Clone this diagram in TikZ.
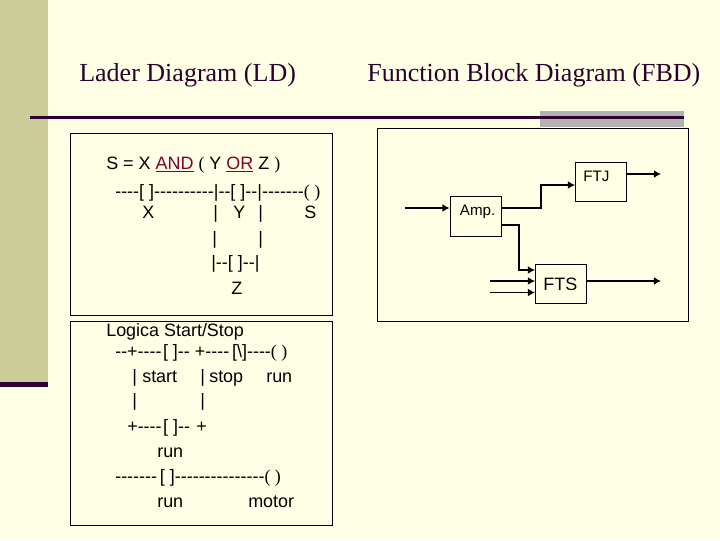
\documentclass[tikz,border=0pt]{standalone}
\usepackage{fontspec}
\setmainfont{Liberation Serif}
\newfontfamily\ldfont{Liberation Sans}
\usetikzlibrary{arrows.meta, positioning, calc}
\definecolor{paper}{HTML}{FFFFE5}
\definecolor{band}{HTML}{CCCC99}
\definecolor{rule}{HTML}{330033}
\definecolor{keyw}{HTML}{800030}

\begin{document}
\begin{tikzpicture}[
    x=0.025cm, y=-0.025cm,
    title/.style={anchor=base west, inner sep=0pt, text=rule!85!black, font=\rmfamily\fontsize{18.5}{22}\selectfont},
    ln/.style={anchor=base west, inner sep=0pt, text=black, font=\ldfont\fontsize{12.76}{15}\selectfont},
    block/.style={draw=black, line width=0.7pt, fill=paper, minimum width=1.275cm, minimum height=0.98cm, inner sep=0pt, font=\ldfont\fontsize{10.8}{12}\selectfont},
    flow/.style={line width=1.3pt, -{Latex[length=5pt, width=5.5pt]}},
]
    % Slide background
    \fill[paper] (0,0) rectangle (720,540);
    \useasboundingbox (0,0) rectangle (720,540);
    \fill[band] (0,0) rectangle (48,384);
    \fill[rule] (0,382) rectangle (48,387);
    \fill[black!30] (540,111) rectangle (684,127);
    \fill[rule] (30,115.5) rectangle (684,118.5);

    % Headings
    \node[title] (LD) at (79,81) {Lader Diagram (LD)};
    \node[title] (FBD) at (367,81) {Function Block Diagram (FBD)};

    % Frames
    \draw[line width=0.7pt] (70,133) rectangle (332,315);
    \draw[line width=0.7pt] (70,321) rectangle (332,525);
    \draw[line width=0.7pt] (377,128) rectangle (688,321);

    % Ladder, first frame
    \node[ln] (eq) at (106,169) {S = X {\color{keyw}\underline{AND}} {\rmfamily (} Y {\color{keyw}\underline{OR}} Z {\rmfamily )}};
    \node[ln] (rungA) at (115,197) {----[ ]----------|--[ ]--|-------{\rmfamily( )}};
    \node[ln] (X) at (142,218) {X};
    \node[ln] (barAa) at (213,218) {|};
    \node[ln] (Y) at (233,218) {Y};
    \node[ln] (barAb) at (258,218) {|};
    \node[ln] (S) at (304,218) {S};
    \node[ln] (barBa) at (212,244) {|};
    \node[ln] (barBb) at (258,244) {|};
    \node[ln] (rungB) at (211,268.5) {|--[ ]--|};
    \node[ln] (Z) at (231,294) {Z};

    % Ladder, second frame
    \node[ln] (logic) at (106,336) {Logica Start/Stop};
    \node[ln] (rungC) at (115,357) {--+----\kern1pt[ ]-- +----\kern2pt[\textbackslash]----{\rmfamily( )}};
    \node[ln] (barCa) at (132,382) {|};
    \node[ln] (start) at (142,382) {start};
    \node[ln] (barCb) at (200,382) {|};
    \node[ln] (stop) at (209,382) {stop};
    \node[ln] (runA) at (266,382) {run};
    \node[ln] (barDa) at (132,406) {|};
    \node[ln] (barDb) at (200,406) {|};
    \node[ln] (rungD) at (127,432) {+----\kern1pt[ ]-- \kern1pt+};
    \node[ln] (runB) at (157,457) {run};
    \node[ln] (rungE) at (115,482) {-------\kern2pt[ ]---------------{\rmfamily( )}};
    \node[ln] (runC) at (157,507) {run};
    \node[ln] (motor) at (248,507) {motor};

    % Function blocks
    \node[block, text height=10pt, text depth=12pt] (Amp) at (475.5,216.5) {\hspace*{3pt}Amp.};
    \node[block, text height=10pt, text depth=11.4pt] (FTJ) at (601,182) {FTJ\hspace*{6.4pt}};
    \node[block, text height=9pt, text depth=0pt, font=\ldfont\fontsize{12.76}{15}\selectfont] (FTS) at (561,284) {FTS\hspace*{1pt}};

    % Free ends
    \coordinate (inAmp) at (405,208);
    \coordinate (inFtsA) at (490,281);
    \coordinate (inFtsB) at (490,292.5);
    \coordinate (outFtj) at (661,174);
    \coordinate (outFts) at (661,281);

    % Connections
    \draw[flow] (inAmp) -- (inAmp -| Amp.west);
    \draw[flow] (Amp.east |- inAmp) -- (541,208) -- (541,185) -- (FTJ.west |- 0,185);
    \draw[flow] (Amp.east |- 0,225) -- (519,225) -- (519,270) -- (FTS.west |- 0,270);
    \draw[flow] (inFtsA) -- (inFtsA -| FTS.west);
    \draw[flow] (inFtsB) -- (inFtsB -| FTS.west);
    \draw[flow] (FTJ.east |- outFtj) -- (outFtj);
    \draw[flow] (FTS.east |- outFts) -- (outFts);
\end{tikzpicture}
\end{document}
